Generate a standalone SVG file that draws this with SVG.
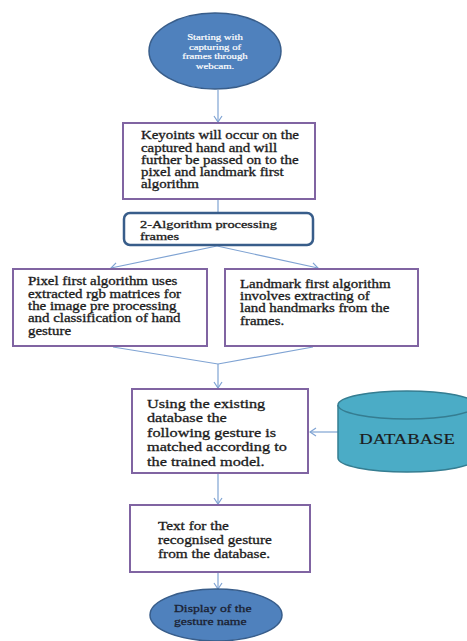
<svg xmlns="http://www.w3.org/2000/svg" width="467" height="641" viewBox="0 0 467 641">
<style>
.t{font-family:"Liberation Serif","Times New Roman",serif;fill:#1c1c1c;stroke:#1c1c1c;stroke-width:0.3}
.w{font-family:"Liberation Serif","Times New Roman",serif;fill:#ffffff;stroke:#ffffff;stroke-width:0.2}
.box{fill:#ffffff;stroke:#8064A2;stroke-width:2}
.rbox{fill:#ffffff;stroke:#385D8A;stroke-width:2.5}
.ell{fill:#4F81BD;stroke:#385D8A;stroke-width:1.5}
.cyl{fill:#4BACC6;stroke:#357D91;stroke-width:1.5}
.c{fill:none;stroke:#7FA3D3;stroke-width:1.2}
</style>
<defs>
<marker id="ah" viewBox="-8 -5 9 10" refX="0" refY="0" markerWidth="9" markerHeight="10" markerUnits="userSpaceOnUse" orient="auto">
<path d="M-6,-4 L0,0 L-6,4" fill="none" stroke="#7FA3D3" stroke-width="1.2"/>
</marker>
</defs>
<rect x="0" y="0" width="467" height="641" fill="#ffffff"/>

<g id="connectors">
<line class="c" x1="218" y1="90" x2="218" y2="122" marker-end="url(#ah)"/>
<line class="c" x1="218" y1="199" x2="218" y2="212"/>
<line class="c" x1="217" y1="246" x2="111" y2="268" marker-end="url(#ah)"/>
<line class="c" x1="217" y1="246" x2="318" y2="268" marker-end="url(#ah)"/>
<polyline class="c" points="113,347 218,364 313,347"/>
<line class="c" x1="218" y1="364" x2="218" y2="388" marker-end="url(#ah)"/>
<line class="c" x1="338" y1="432" x2="310" y2="432" marker-end="url(#ah)"/>
<line class="c" x1="218" y1="474" x2="218" y2="504" marker-end="url(#ah)"/>
<line class="c" x1="218" y1="573" x2="218" y2="589" marker-end="url(#ah)"/>
</g>

<g id="start">
<ellipse class="ell" cx="215" cy="51" rx="66" ry="38"/>
<g transform="translate(215 0) scale(1.25 1)">
<text class="w" font-size="8.6" text-anchor="middle"><tspan x="0" y="40">Starting with</tspan><tspan x="0" y="49.7">capturing of</tspan><tspan x="0" y="59.4">frames through</tspan><tspan x="0" y="69.1">webcam.</tspan></text>
</g>
</g>

<g id="keypoints">
<rect class="box" x="123" y="123" width="192" height="76"/>
<g transform="translate(141 0) scale(1.296 1)">
<text class="t" font-size="11.5"><tspan x="0" y="139.5">Keyoints will occur on the</tspan><tspan x="0" y="151.7">captured hand and will</tspan><tspan x="0" y="164">further be passed on to the</tspan><tspan x="0" y="176.3">pixel and landmark first</tspan><tspan x="0" y="188.5">algorithm</tspan></text>
</g>
</g>

<g id="twoalgo">
<rect class="rbox" x="124" y="213" width="189" height="32" rx="6"/>
<g transform="translate(140 0) scale(1.37 1)">
<text class="t" font-size="10.5"><tspan x="0" y="228.5">2-Algorithm processing</tspan><tspan x="0" y="240.5">frames</tspan></text>
</g>
</g>

<g id="pixelfirst">
<rect class="box" x="13" y="269" width="194" height="77"/>
<g transform="translate(28 0) scale(1.296 1)">
<text class="t" font-size="11.5"><tspan x="0" y="285.5">Pixel first algorithm uses</tspan><tspan x="0" y="297.8">extracted rgb matrices for</tspan><tspan x="0" y="310.1">the image pre processing</tspan><tspan x="0" y="322.4">and classification of hand</tspan><tspan x="0" y="334.7">gesture</tspan></text>
</g>
</g>

<g id="landmarkfirst">
<rect class="box" x="225" y="269" width="193" height="77"/>
<g transform="translate(240 0) scale(1.296 1)">
<text class="t" font-size="11.5"><tspan x="0" y="287.7">Landmark first algorithm</tspan><tspan x="0" y="300">involves extracting of</tspan><tspan x="0" y="312.3">land handmarks from the</tspan><tspan x="0" y="324.6">frames.</tspan></text>
</g>
</g>

<g id="matching">
<rect class="box" x="132" y="389" width="176" height="84"/>
<g transform="translate(147 0) scale(1.25 1)">
<text class="t" font-size="13"><tspan x="0" y="408">Using the existing</tspan><tspan x="0" y="422.5">database the</tspan><tspan x="0" y="437">following gesture is</tspan><tspan x="0" y="451.5">matched according to</tspan><tspan x="0" y="466">the trained model.</tspan></text>
</g>
</g>

<g id="database">
<path class="cyl" d="M338,405 L338,458 A69,14 0 0 0 476,458 L476,405"/>
<ellipse class="cyl" cx="407" cy="405" rx="69" ry="14"/>
<g transform="translate(407 0) scale(1.24 1)">
<text class="t" font-size="15" text-anchor="middle" x="0" y="444" style="stroke-width:0.2">DATABASE</text>
</g>
</g>

<g id="textout">
<rect class="box" x="130" y="505" width="180" height="67"/>
<g transform="translate(158 0) scale(1.23 1)">
<text class="t" font-size="12.4"><tspan x="0" y="529.8">Text for the</tspan><tspan x="0" y="543.8">recognised gesture</tspan><tspan x="0" y="557.8">from the database.</tspan></text>
</g>
</g>

<g id="display">
<ellipse class="ell" cx="216" cy="615" rx="66" ry="26"/>
<g transform="translate(174 0) scale(1.28 1)">
<text class="t" font-size="10.7" style="fill:#1b2233;stroke:#1b2233"><tspan x="0" y="612">Display of the</tspan><tspan x="0" y="625">gesture name</tspan></text>
</g>
</g>
</svg>
